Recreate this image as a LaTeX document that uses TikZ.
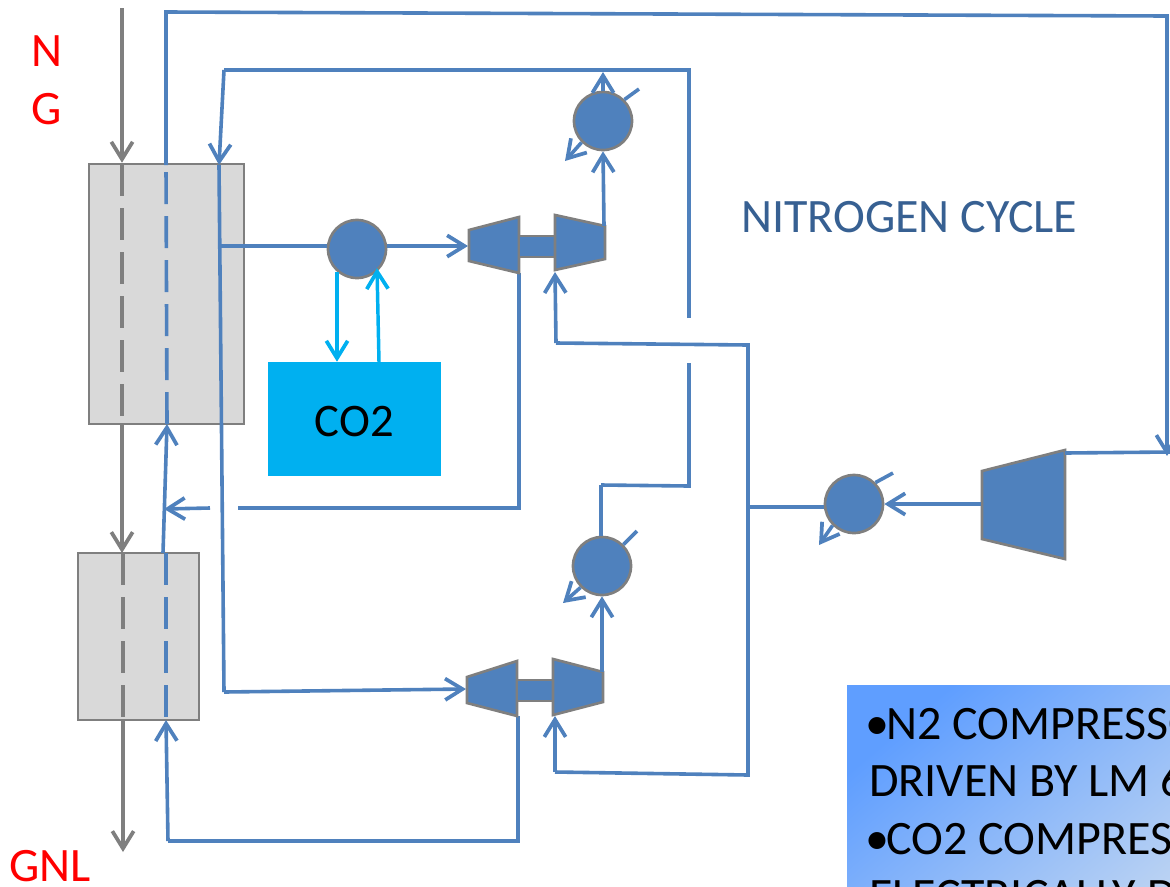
\documentclass[tikz,border=0pt]{standalone}
\usepackage{xcolor}
\usepackage{fontspec}
\setmainfont{Carlito}
\usetikzlibrary{arrows.meta}
\definecolor{pipeblue}{HTML}{4F81BD}
\definecolor{pipegrey}{HTML}{7F7F7F}
\definecolor{hxgrey}{HTML}{D9D9D9}
\definecolor{coldblue}{HTML}{00B0F0}
\definecolor{cycleblue}{HTML}{376092}
\definecolor{boxa}{HTML}{5F9EFF}
\definecolor{boxb}{HTML}{85BEFF}
\definecolor{boxc}{HTML}{C6D9F1}
\tikzset{
   barb/.style={-{Straight Barb[length=13pt,width=16pt,line width=2.8pt]}},
   pipe/.style={color=pipeblue,line width=2.7pt},
   gas/.style={color=pipegrey,line width=2.8pt},
   inside/.style={dash pattern=on 24pt off 9pt},
   chill/.style={color=coldblue,line width=2.6pt},
   hx/.style={draw=pipegrey,fill=hxgrey,line width=1.9pt,inner sep=0pt},
   machine/.style={draw=pipegrey,fill=pipeblue,line width=2pt},
   cooler/.style={circle,draw=pipegrey,fill=pipeblue,line width=2pt,minimum size=43.5pt,inner sep=0pt},
   red label/.style={color=red,font=\fontsize{36}{36}\selectfont,inner sep=0pt,anchor=base}
}
\begin{document}
\begin{tikzpicture}[x=0.75pt,y=-0.75pt]
   \useasboundingbox (0,0) rectangle (1170,886);
   \clip (0,0) rectangle (1170,886);

   \node[hx,minimum width=116pt,minimum height=195pt] (HXtop) at (166.5,294) {};
   \node[hx,minimum width=91pt,minimum height=125pt] (HXlow) at (138.5,636.5) {};
   \node[fill=coldblue,minimum width=130pt,minimum height=85.5pt,inner sep=0pt] (CO2) at (354.5,419) {};
   \node[font=\fontsize{35}{35}\selectfont,inner sep=0pt] (CO2text) at (354.5,421.5) {CO2};

   \coordinate (NGin) at (122,8);
   \coordinate (GNLout) at (123,852);
   \draw[gas][barb] (NGin) to (NGin |- HXtop.north);
   \draw[gas][inside] (122,164) to (122,424);
   \draw[gas][barb] (122,424) to (122,553);
   \draw[gas][inside] (123,553) to (123,720);
   \draw[gas][barb] (123,720) to (GNLout);

   \coordinate (Ta) at (166,12);
   \coordinate (Tb) at (1167,16);
   \coordinate (Tc) at (1167,456);
   \coordinate (Ja) at (219,165);
   \coordinate (Jb) at (220,246);
   \coordinate (Jc) at (224,692);
   \coordinate (Ua) at (689,318);
   \coordinate (Ub) at (689,70);
   \coordinate (Uc) at (224,70);
   \coordinate (Va) at (689,363);
   \coordinate (Vb) at (689,486);
   \coordinate (Vc) at (601,485);
   \coordinate (Wa) at (748,345);
   \coordinate (Wb) at (748,775);
   \coordinate (Wc) at (556,343);
   \coordinate (Wd) at (555,772);
   \coordinate (We) at (748,507);
   \coordinate (Xa) at (519,273);
   \coordinate (Xb) at (519,508);
   \coordinate (Xc) at (238,508);
   \coordinate (Xd) at (210,508);
   \coordinate (Xe) at (164,509);
   \coordinate (Ya) at (518,716);
   \coordinate (Yb) at (518,841);
   \coordinate (Yc) at (168,841);
   \coordinate (Ra) at (166,720);
   \coordinate (Rb) at (163,553);
   \coordinate (Rc) at (167,424);
   \coordinate (Sa) at (337,272);
   \coordinate (Sb) at (379,362);

   \draw[pipe][inside] (166,553) to (166,720);
   \draw[pipe][inside] (Rc) to (166,165);
   \draw[pipe][barb] (166,165) to (Ta) to (Tb) to (Tc);
   \draw[pipe][barb] (Rb) to (Rc);
   \draw[pipe][barb] (Yc) to (Ra);
   \draw[pipe] (Ya) to (Yb) to (Yc);
   \draw[pipe] (Ua) to (Ub) to (Uc);
   \draw[pipe][barb] (Uc) to (Ja);
   \draw[pipe] (Ja) to (Jc);
   \draw[pipe][barb] (Jc) to (466,689);
   \draw[pipe] (Xa) to (Xb) to (Xc);
   \draw[pipe][barb] (Xd) to (Xe);
   \draw[pipe][barb] (Wc) to (555,272);
   \draw[pipe] (Wc) to (Wa) to (Wb) to (Wd);
   \draw[pipe][barb] (Wd) to (555,716);
   \draw[pipe] (Va) to (Vb) to (Vc);

   \node[cooler] (CoolerCO2) at (357,249) {};
   \node[cooler] (CoolerUp) at (603,121) {};
   \node[cooler] (CoolerLow) at (602,566) {};
   \node[cooler] (CoolerN2) at (854,504) {};

   \draw[pipe] (Jb) to (CoolerCO2.west |- Jb);
   \draw[pipe][barb] (CoolerCO2.east |- Jb) to (468,246);
   \draw[chill][barb] (Sa) to (Sa |- CO2.north);
   \draw[chill][barb] (Sb) to (377,268);

   \draw[machine] (469,230) to (519,217) to (519,273) to (469,261) to cycle;
   \draw[machine] (519,236) rectangle (555.5,257);
   \draw[machine] (555,215) to (605,226) to (605,259) to (555,270) to cycle;
   \draw[machine] (467,677) to (517,661) to (517,716) to (467,703) to cycle;
   \draw[machine] (517,680) rectangle (553.5,701);
   \draw[machine] (553,659) to (603,672) to (603,702) to (553,715) to cycle;
   \draw[machine] (982,471) to (1065,450) to (1065,559) to (982,539) to cycle;

   \draw[pipe][barb] (604,226) to (CoolerUp.south);
   \draw[pipe][barb] (CoolerUp.north) to (603,72);
   \draw[pipe] (CoolerUp.45) to (639,89);
   \draw[pipe][barb] (CoolerUp.225) to (565,161);
   \draw[pipe][barb] (602,672) to (CoolerLow.south);
   \draw[pipe] (Vc) to (CoolerLow.north -| Vc);
   \draw[pipe] (CoolerLow.45) to (637,531);
   \draw[pipe][barb] (CoolerLow.225) to (563,603);
   \draw[pipe] (We) to (CoolerN2.west |- We);
   \draw[pipe][barb] (981,504) to (CoolerN2.east);
   \draw[pipe] (CoolerN2.45) to (893,473);
   \draw[pipe][barb] (CoolerN2.225) to (819,545);
   \draw[pipe] (1065,453) to (1170,452);

   \node[red label] (LabN) at (47,66) {N};
   \node[red label] (LabG) at (47,124) {G};
   \node[red label] (LabGNL) at (50,881) {GNL};
   \node[color=cycleblue,font=\fontsize{36}{36}\selectfont,inner sep=0pt,anchor=base west] (Cycle) at (741,232) {NITROGEN CYCLE};

   \shade[left color=boxa,middle color=boxb,right color=boxc,shading angle=40] (847,685) rectangle (1250,950);
   \node[anchor=north west,inner sep=0pt,align=left,font=\fontsize{36}{43}\selectfont] (Notes) at (869,708) {\kern-3pt•\kern-2pt N2 COMPRESSO\\DRIVEN BY LM 6\\\kern-3pt•\kern-2pt CO2 COMPRES\\ELECTRICALLY D};
\end{tikzpicture}
\end{document}
